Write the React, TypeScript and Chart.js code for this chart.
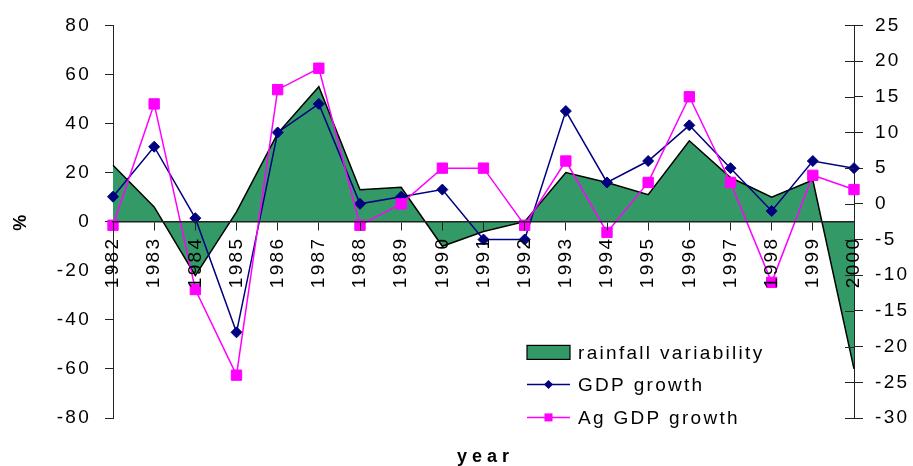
import React, { useEffect, useRef } from 'react';
import { Chart, registerables } from 'chart.js';

Chart.register(...registerables);

const years = ['1982', '1983', '1984', '1985', '1986', '1987', '1988', '1989', '1990', '1991', '1992', '1993', '1994', '1995', '1996', '1997', '1998', '1999', '2000'];
const rainfallVariability = [23, 6, -22, 4, 36, 55, 13, 14, -10, -4, 0, 20, 16, 11, 33, 18, 10, 17, -60];
const gdpGrowth = [1, 8, -2, -18, 10, 14, 0, 1, 2, -5, -5, 13, 3, 6, 11, 5, -1, 6, 5];
const agGdpGrowth = [-3, 14, -12, -24, 16, 19, -3, 0, 5, 5, -3, 6, -4, 3, 15, 3, -11, 4, 2];

const leftMin = -80;
const leftMax = 80;
const leftStep = 20;
const rightMin = -30;
const rightMax = 25;
const rightStep = 5;

const seriesNames = ['rainfall variability', 'GDP growth', 'Ag GDP growth'];
const xTitle = 'year';
const yTitle = '%';

const FONT = '"Liberation Sans", Arial, sans-serif';
const SPACING = '2.3px';
const FS = 19;
const GREEN = '#339966';
const NAVY = '#000080';
const MAGENTA = '#FF00FF';
const AXIS = '#222222';

const spacingPlugin = {
  id: 'spacing',
  beforeUpdate(chart: any) { chart.ctx.letterSpacing = SPACING; },
  beforeLayout(chart: any) { chart.ctx.letterSpacing = SPACING; },
  beforeDraw(chart: any) { chart.ctx.letterSpacing = SPACING; },
};

const extrasPlugin = {
  id: 'extras',
  afterDraw(chart: any) {
    const ctx = chart.ctx as CanvasRenderingContext2D;
    const ca = chart.chartArea;
    const y1 = chart.scales.y1;
    ctx.save();
    // inner half of crossing ticks on right axis
    ctx.strokeStyle = AXIS;
    ctx.lineWidth = 1;
    ctx.beginPath();
    y1.ticks.forEach((t: any) => {
      const py = Math.round(y1.getPixelForValue(t.value)) + 0.5;
      ctx.moveTo(y1.left - 9, py);
      ctx.lineTo(y1.left, py);
    });
    ctx.stroke();

    // x title
    (ctx as any).letterSpacing = '5px';
    ctx.fillStyle = '#000';
    ctx.font = `bold 18px ${FONT}`;
    ctx.textAlign = 'center';
    ctx.textBaseline = 'middle';
    ctx.fillText(xTitle, (ca.left + ca.right) / 2 + 2, ca.bottom + 39);

    // legend
    (ctx as any).letterSpacing = SPACING;
    ctx.font = `${FS}px ${FONT}`;
    ctx.textAlign = 'left';
    const lx = ca.left + 414;
    const rowY = [ca.top + 327, ca.top + 359, ca.top + 392];
    const symW = 43;
    const tx = lx + 51;
    // rainfall box
    ctx.fillStyle = GREEN;
    ctx.strokeStyle = '#000';
    ctx.lineWidth = 1.2;
    ctx.fillRect(lx, rowY[0] - 7, symW, 14);
    ctx.strokeRect(lx, rowY[0] - 7, symW, 14);
    // GDP line
    ctx.strokeStyle = NAVY;
    ctx.lineWidth = 1.5;
    ctx.beginPath();
    ctx.moveTo(lx, rowY[1]);
    ctx.lineTo(lx + symW, rowY[1]);
    ctx.stroke();
    ctx.fillStyle = NAVY;
    ctx.beginPath();
    const cx = lx + symW / 2;
    ctx.moveTo(cx - 4.5, rowY[1]);
    ctx.lineTo(cx, rowY[1] - 4.5);
    ctx.lineTo(cx + 4.5, rowY[1]);
    ctx.lineTo(cx, rowY[1] + 4.5);
    ctx.closePath();
    ctx.fill();
    // Ag line
    ctx.strokeStyle = MAGENTA;
    ctx.beginPath();
    ctx.moveTo(lx, rowY[2]);
    ctx.lineTo(lx + symW, rowY[2]);
    ctx.stroke();
    ctx.fillStyle = MAGENTA;
    ctx.fillRect(cx - 4, rowY[2] - 4, 8, 8);
    // texts
    ctx.fillStyle = '#000';
    seriesNames.forEach((n, i) => ctx.fillText(n, tx, rowY[i] + 1));
    ctx.restore();
  },
};

export default function App() {
  const ref = useRef<HTMLCanvasElement | null>(null);
  useEffect(() => {
    if (!ref.current) return;
    Chart.defaults.font.family = FONT;
    Chart.defaults.font.size = FS;
    Chart.defaults.color = '#000';
    const chart = new Chart(ref.current, {
      type: 'line',
      data: {
        labels: years,
        datasets: [
          {
            label: seriesNames[0],
            data: rainfallVariability,
            yAxisID: 'y',
            fill: 'origin',
            backgroundColor: GREEN,
            borderColor: '#000',
            borderWidth: 1.5,
            pointRadius: 0,
            tension: 0,
            order: 2,
          },
          {
            label: seriesNames[1],
            data: gdpGrowth,
            yAxisID: 'y1',
            fill: false,
            borderColor: NAVY,
            backgroundColor: NAVY,
            borderWidth: 1.5,
            pointStyle: 'rectRot',
            pointRadius: 5.5,
            pointBorderWidth: 1,
            pointBackgroundColor: NAVY,
            pointBorderColor: NAVY,
            tension: 0,
            order: 1,
          },
          {
            label: seriesNames[2],
            data: agGdpGrowth,
            yAxisID: 'y1',
            fill: false,
            borderColor: MAGENTA,
            backgroundColor: MAGENTA,
            borderWidth: 1.5,
            pointStyle: 'rect',
            pointRadius: 7.3,
            pointBorderWidth: 1,
            pointBackgroundColor: MAGENTA,
            pointBorderColor: MAGENTA,
            tension: 0,
            order: 0,
          },
        ],
      },
      options: {
        responsive: false,
        animation: false,
        devicePixelRatio: 1,
        layout: { padding: { left: 0, right: 0, top: 24, bottom: 48 } },
        plugins: {
          legend: { display: false },
          tooltip: { enabled: false },
          title: { display: false },
        },
        scales: {
          x: {
            type: 'category',
            position: { y: 0 } as any,
            offset: false,
            grid: { display: true, drawOnChartArea: false, drawTicks: true, tickLength: 8, color: AXIS, lineWidth: 1, z: 1 },
            border: { display: true, color: AXIS, width: 1.5, z: 1 },
            ticks: { minRotation: 90, maxRotation: 90, autoSkip: false, padding: 7, font: { size: FS }, color: '#000', z: 1 },
          },
          y: {
            type: 'linear',
            position: 'left',
            min: leftMin,
            max: leftMax,
            ticks: { stepSize: leftStep, padding: 14, font: { size: FS }, color: '#000' },
            grid: { display: true, drawOnChartArea: false, tickLength: 8, color: AXIS },
            border: { display: true, color: AXIS, width: 1 },
            title: { display: true, text: yTitle, font: { size: 18, weight: 'bold' }, padding: { top: 10, bottom: 0 }, color: '#000' },
            afterFit(s: any) { s.width = 113; },
          },
          y1: {
            type: 'linear',
            position: 'right',
            min: rightMin,
            max: rightMax,
            ticks: { stepSize: rightStep, padding: 12, font: { size: FS }, color: '#000' },
            grid: { display: true, drawOnChartArea: false, tickLength: 9, color: AXIS },
            border: { display: true, color: AXIS, width: 1 },
            afterFit(s: any) { s.width = 59; },
          },
        },
      },
      plugins: [spacingPlugin, extrasPlugin],
    } as any);
    return () => chart.destroy();
  }, []);
  return (
    <div style={{ position: 'absolute', left: 0, top: 0, width: 913, height: 466 }}>
      <canvas ref={ref} width={913} height={466} style={{ display: 'block', width: 913, height: 466 }} />
    </div>
  );
}
